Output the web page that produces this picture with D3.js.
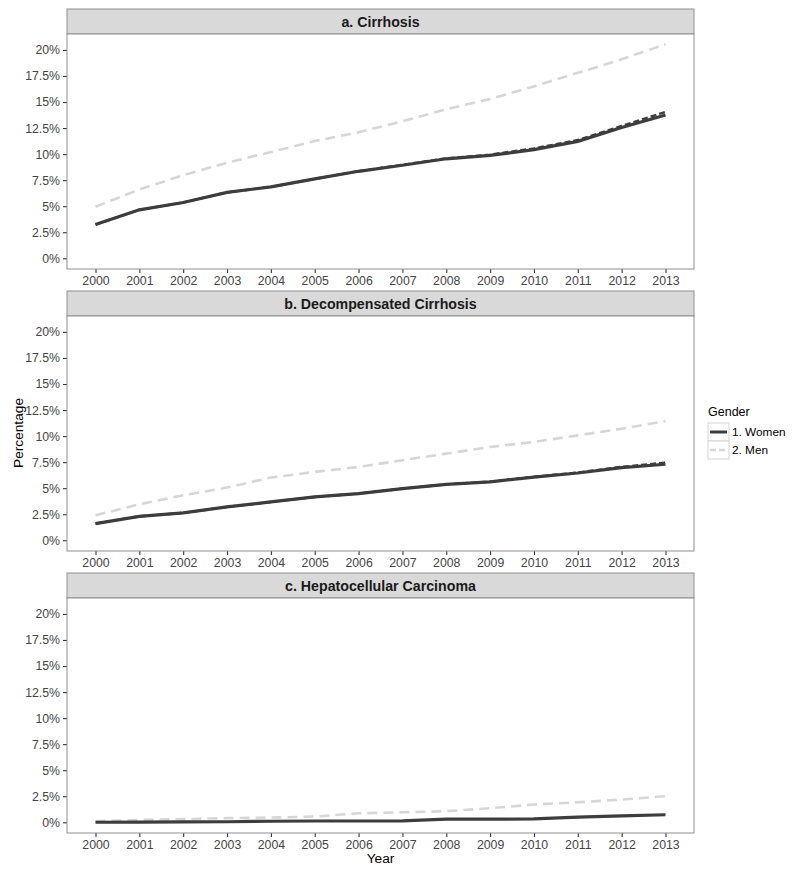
<!DOCTYPE html>
<html>
<head>
<meta charset="utf-8">
<script src="https://cdn.jsdelivr.net/npm/d3@7"></script>
<style>
  body { margin: 0; background: #fff; }
  text { font-family: "Liberation Sans", Arial, sans-serif; }
</style>
</head>
<body>
<svg id="chart" width="795" height="873"></svg>
<script>
var years = [2000, 2001, 2002, 2003, 2004, 2005, 2006, 2007, 2008, 2009, 2010, 2011, 2012, 2013];
var yTicks = [0, 2.5, 5, 7.5, 10, 12.5, 15, 17.5, 20];
var genders = ['1. Women', '2. Men'];
var panelTitles = ['a. Cirrhosis', 'b. Decompensated Cirrhosis', 'c. Hepatocellular Carcinoma'];

var womenA = [3.24, 4.65, 5.35, 6.33, 6.85, 7.62, 8.35, 8.93, 9.55, 9.87, 10.43, 11.22, 12.55, 13.75];
var womenA2 = [3.24, 4.65, 5.35, 6.33, 6.85, 7.62, 8.37, 8.97, 9.6, 9.95, 10.55, 11.35, 12.7, 14.05];
var menA = [4.94, 6.6, 7.98, 9.17, 10.2, 11.25, 12.1, 13.15, 14.3, 15.3, 16.5, 17.8, 19.1, 20.55];

var womenB = [1.6, 2.3, 2.63, 3.2, 3.68, 4.16, 4.48, 4.96, 5.37, 5.6, 6.07, 6.46, 6.98, 7.3];
var womenB2 = [1.6, 2.3, 2.63, 3.2, 3.68, 4.16, 4.48, 4.96, 5.37, 5.62, 6.1, 6.5, 7.05, 7.45];
var menB = [2.4, 3.45, 4.32, 5.06, 6.02, 6.56, 7.04, 7.68, 8.32, 8.96, 9.44, 10.07, 10.7, 11.45];

var womenC = [0.0, 0.02, 0.03, 0.05, 0.1, 0.12, 0.12, 0.13, 0.3, 0.3, 0.32, 0.5, 0.62, 0.72];
var menC = [0.1, 0.23, 0.3, 0.4, 0.45, 0.55, 0.86, 0.96, 1.06, 1.35, 1.7, 1.92, 2.18, 2.5];

var panels = [
  { title: panelTitles[0], women: womenA, women2: womenA2, men: menA },
  { title: panelTitles[1], women: womenB, women2: womenB2, men: menB },
  { title: panelTitles[2], women: womenC, women2: null, men: menC }
];

var left = 67, right = 694;
var stripH = 25, plotH = 235, panelStep = 282, top0 = 9;
var womenColor = '#3d3d3d', menColor = '#d6d6d6';
var borderColor = '#8f8f8f';

var svg = d3.select('#chart');

var x = d3.scaleLinear().domain([2000 - 0.65, 2013 + 0.65]).range([left, right]);
var y = d3.scaleLinear().domain([-1.03, 21.53]).range([plotH, 0]);

var fmtPct = function(d) { return d + '%'; };

var line = d3.line()
  .x(function(d, i) { return x(years[i]); })
  .y(function(d) { return y(d); });

panels.forEach(function(p, k) {
  var g = svg.append('g').attr('transform', 'translate(0,' + (top0 + k * panelStep) + ')');

  // strip
  g.append('rect')
    .attr('x', left).attr('y', 0)
    .attr('width', right - left).attr('height', stripH)
    .attr('fill', '#d9d9d9').attr('stroke', borderColor).attr('stroke-width', 1);
  g.append('text')
    .attr('x', (left + right) / 2).attr('y', stripH / 2)
    .attr('text-anchor', 'middle').attr('dominant-baseline', 'central')
    .style('font-size', '14.2px').style('font-weight', 'bold').attr('fill', '#1a1a1a')
    .text(p.title);

  var plot = g.append('g').attr('transform', 'translate(0,' + stripH + ')');
  plot.append('rect')
    .attr('x', left).attr('y', 0)
    .attr('width', right - left).attr('height', plotH)
    .attr('fill', '#fff');

  var yAxis = plot.append('g')
    .attr('transform', 'translate(' + left + ',0)')
    .call(d3.axisLeft(y).tickValues(yTicks).tickFormat(fmtPct).tickSize(4).tickPadding(3));
  var xAxis = plot.append('g')
    .attr('transform', 'translate(0,' + plotH + ')')
    .call(d3.axisBottom(x).tickValues(years).tickFormat(d3.format('d')).tickSize(4).tickPadding(3));
  [xAxis, yAxis].forEach(function(a) {
    a.select('.domain').remove();
    a.selectAll('.tick line').attr('stroke', '#333').attr('stroke-width', 1.1);
    a.selectAll('.tick text').attr('fill', '#444').style('font-size', '12.3px')
      .style('font-family', '"Liberation Sans", Arial, sans-serif');
  });

  plot.append('path').datum(p.men)
    .attr('d', line).attr('fill', 'none')
    .attr('stroke', menColor).attr('stroke-width', 2.6)
    .attr('stroke-dasharray', '10,6');
  plot.append('path').datum(p.women)
    .attr('d', line).attr('fill', 'none')
    .attr('stroke', womenColor).attr('stroke-width', 3.2);
  if (p.women2) {
    plot.append('path').datum(p.women2)
      .attr('d', line).attr('fill', 'none')
      .attr('stroke', womenColor).attr('stroke-width', 2.4)
      .attr('stroke-dasharray', '6,3');
  }

  plot.append('rect')
    .attr('x', left).attr('y', 0)
    .attr('width', right - left).attr('height', plotH)
    .attr('fill', 'none').attr('stroke', borderColor).attr('stroke-width', 1);
});

// axis titles
svg.append('text')
  .attr('transform', 'translate(18,433) rotate(-90)')
  .attr('text-anchor', 'middle').attr('dominant-baseline', 'central')
  .style('font-size', '13.7px').attr('fill', '#000')
  .text('Percentage');
svg.append('text')
  .attr('x', (left + right) / 2).attr('y', 858)
  .attr('text-anchor', 'middle').attr('dominant-baseline', 'central')
  .style('font-size', '13.7px').attr('fill', '#000')
  .text('Year');

// legend
var legend = svg.append('g').attr('transform', 'translate(708,0)');
legend.append('text')
  .attr('x', 0).attr('y', 412)
  .attr('dominant-baseline', 'central')
  .style('font-size', '12.5px').attr('fill', '#000')
  .text('Gender');
var keyH = 18, keyW = 21;
genders.forEach(function(gname, i) {
  var ky = 423 + i * keyH;
  legend.append('rect')
    .attr('x', 0).attr('y', ky).attr('width', keyW).attr('height', keyH)
    .attr('fill', '#fff').attr('stroke', '#d4d4d4').attr('stroke-width', 1);
  legend.append('line')
    .attr('x1', 2).attr('x2', keyW - 2)
    .attr('y1', ky + keyH / 2).attr('y2', ky + keyH / 2)
    .attr('stroke', i === 0 ? womenColor : menColor)
    .attr('stroke-width', i === 0 ? 3 : 2.6)
    .attr('stroke-dasharray', i === 0 ? null : '6,3');
  legend.append('text')
    .attr('x', keyW + 3).attr('y', ky + keyH / 2)
    .attr('dominant-baseline', 'central')
    .style('font-size', '11.8px').attr('fill', '#000')
    .text(gname);
});
</script>
</body>
</html>
